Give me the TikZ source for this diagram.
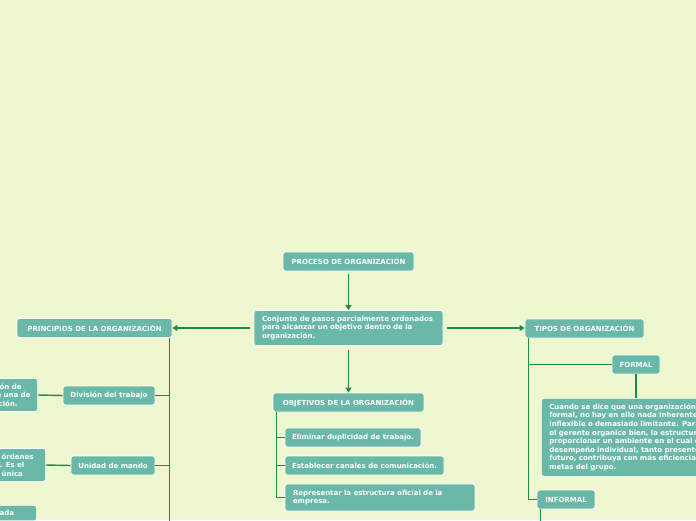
\documentclass[tikz,border=0pt]{standalone}
\usepackage{fontspec}
\newfontfamily\mapfont{DejaVu Sans}
\usetikzlibrary{arrows.meta,calc}
\definecolor{bgcol}{RGB}{238,248,208}
\definecolor{boxcol}{RGB}{106,185,168}
\definecolor{linecol}{RGB}{32,138,72}
\tikzset{
  box/.style={rectangle, rounded corners=2.5pt, fill=boxcol, draw=white, line width=0.7pt,
    text=white, font=\mapfont\bfseries\fontsize{7}{8.6}\selectfont, inner sep=0pt},
  link/.style={draw=linecol, line width=1.4pt},
  arr/.style={link, -{Triangle[length=5pt,width=6pt]}},
}
\begin{document}
\begin{tikzpicture}[x=1pt,y=-1pt]
\fill[bgcol] (0,0) rectangle (696,520);
\useasboundingbox (0,0) rectangle (696,520);
\clip (0,0) rectangle (696,520);

% centre
\node[box, minimum width=131, minimum height=19] (proceso) at (348.5,261.5) {PROCESO DE ORGANIZACIÓN};
\node[box, text width=173, inner xsep=8, minimum height=35, align=left] (conjunto) at (348.5,328)
  {Conjunto de pasos parcialmente ordenados\\para alcanzar un objetivo dentro de la\\organización.};
\draw[arr, shorten <=3pt] (proceso) -- (conjunto);

% principios
\node[box, minimum width=155, minimum height=19] (principios) at (94.5,328) {PRINCIPIOS DE LA ORGANIZACIÓN};
\draw[arr, shorten <=4pt] (conjunto.west) -- (principios.east);
\coordinate (pstem) at ([xshift=-3pt]principios.south east);
\draw[link] (pstem) -- ++(0,190);
\node[box, minimum width=92, minimum height=19] (division) at (109,395.5) {División del trabajo};
\node[box, anchor=east, text width=35, inner xsep=6, inner ysep=5, align=left] (divtxt) at (38,395)
  {\hspace*{3pt}ón de\\a una de\\\hspace*{2pt}ción.};
\draw[link] (division.east) -- (division.east -| pstem);
\draw[link] (division.west) -- (divtxt.east);
\node[box, minimum width=84, minimum height=19] (unidad) at (113,465.5) {Unidad de mando};
\node[box, anchor=east, text width=36, inner xsep=8, inner ysep=5, align=left] (unitxt) at (46,465)
  {órdenes\\\hspace*{-2pt}. Es el\\única};
\draw[link] (unidad.east) -- (unidad.east -| pstem);
\draw[link] (unidad.west) -- (unitxt.east);
\node[box, anchor=north east, text width=29, inner xsep=8, inner ysep=5, align=left] (otrotxt) at (37,505) {ada};

% objetivos
\node[box, minimum width=151, minimum height=19] (objetivos) at (348.5,402.5) {OBJETIVOS DE LA ORGANIZACIÓN};
\draw[arr, shorten <=4pt] (conjunto) -- (objetivos);
\coordinate (ostem) at ([xshift=4pt]objetivos.south west);
\node[box, minimum width=136, minimum height=19] (eliminar) at (353,437.5) {Eliminar duplicidad de trabajo.};
\node[box, minimum width=159, minimum height=19] (canales) at (364.5,465.5) {Establecer canales de comunicación.};
\node[box, text width=174, inner xsep=8, minimum height=27, align=left] (representar) at (380,497.5)
  {Representar la estructura oficial de la\\empresa.};
\draw[link] (ostem) |- (representar.west);
\draw[link] (eliminar.west) -- (eliminar.west -| ostem);
\draw[link] (canales.west) -- (canales.west -| ostem);

% tipos
\node[box, minimum width=119, minimum height=19] (tipos) at (584.5,328.5) {TIPOS DE ORGANIZACIÓN};
\draw[arr, shorten <=4pt] (conjunto.east) -- (conjunto.east -| tipos.west);
\coordinate (tstem) at ([xshift=4pt]tipos.south west);
\node[box, minimum width=48, minimum height=19] (formal) at (636,364.5) {FORMAL};
\node[box, anchor=north west, text width=200, inner xsep=8, minimum height=78, align=left] (formtxt) at (541,398)
  {Cuando se dice que una organización\\formal, no hay en ello nada inherente\\inflexible o demasiado limitante. Para\\el gerente organice bien, la estructura\\proporcionar un ambiente en el cual e\\desempeño individual, tanto presente\\futuro, contribuya con más eficiencia\\metas del grupo.};
\node[box, minimum width=58, minimum height=19] (informal) at (566,499.5) {INFORMAL};
\draw[link] (tstem) |- (informal.west);
\draw[link] (formal.west) -- (formal.west -| tstem);
\draw[link] (formal) -- (formtxt.north -| formal);
\draw[link] ([xshift=4pt]informal.south west) -- ++(0,20);
\end{tikzpicture}
\end{document}
